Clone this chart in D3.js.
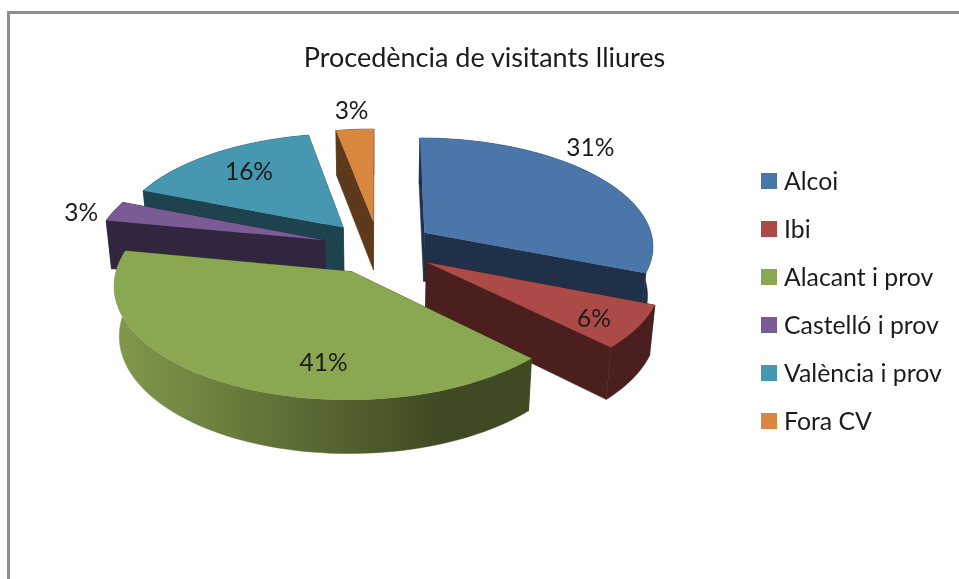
<!DOCTYPE html>
<html>
<head>
<meta charset="utf-8">
<script src="https://d3js.org/d3.v7.min.js"></script>
<style>
    html, body { margin: 0; padding: 0; background: #fff; overflow: hidden; }
    svg { display: block; filter: blur(0.4px); }
    text { font-family: Lato, "Open Sans", sans-serif; fill: #1c1c1c; }
</style>
</head>
<body>
<div id="chart"></div>
<script>
// chart values
var chartTitle = "Procedència de visitants lliures";
var categories = ["Alcoi", "Ibi", "Alacant i prov", "Castelló i prov", "València i prov", "Fora CV"];
var values = [31, 6.4, 40.6, 3, 16, 3];

// colours
var topColors = ["#4a76a9", "#ab4a47", "#8aa851", "#7a5b95", "#4598b0", "#d9873f"];
var wallColors = ["#1f3048", "#4a1f1d", "#3f4a22", "#32263f", "#1e424e", "#5d3a1c"];
var rimLightColors = ["#1f3048", "#4a1f1d", "#81994c", "#32263f", "#1e424e", "#5d3a1c"];

// where Excel put the data labels, as angle (degrees) and radius on the pie
var labelAngles = [42.6, 125, 187.8, 283.8, 322.2, 354.8];
var labelRadii = [1.217, 0.817, 0.735, 1.139, 0.743, 1.249];

var width = 959;
var height = 579;

// projection of the tilted pie
var cx = 378.5, cy = 247.5;
var rx = 230, ry = 108.4;
var persp = 0.1106;
var explode = 0.245;
var depth = 49;
var bottomScale = 1.02;

var svg = d3.select("#chart").append("svg")
    .attr("width", width)
    .attr("height", height);

var defs = svg.append("defs");

// frame, only top and left in the picture
svg.append("path")
    .attr("d", "M8.5,579V12.5H959")
    .attr("fill", "none")
    .attr("stroke", "#8e8e8e")
    .attr("stroke-width", 3);

svg.append("text")
    .attr("x", 484.5)
    .attr("y", 67)
    .attr("text-anchor", "middle")
    .attr("font-size", 27)
    .text(chartTitle);

var pie = d3.pie().sort(null).value(function (d) { return d; });
var arcs = pie(values).map(function (d, i) {
    d.name = categories[i];
    d.index = i;
    d.mid = (d.startAngle + d.endAngle) / 2;
    d.ox = explode * Math.sin(d.mid);
    d.oy = explode * Math.cos(d.mid);
    return d;
});

function project(d, angle, r, bottom) {
    var X = d.ox + r * Math.sin(angle);
    var Y = d.oy + r * Math.cos(angle);
    var w = 1 + persp * Y;
    var s = bottom ? 1 / bottomScale : 1;
    return [
        cx + rx * X / w * s,
        cy - ry * Y / w * s + (bottom ? depth / w : 0)
    ];
}

function rimAngles(d) {
    var n = Math.max(4, Math.ceil((d.endAngle - d.startAngle) / 0.03));
    return d3.range(n + 1).map(function (j) {
        return d.startAngle + (d.endAngle - d.startAngle) * j / n;
    });
}

var line = d3.line();
function polygon(pts) {
    return line(pts) + "Z";
}

// back slices first
var order = arcs.slice().sort(function (a, b) {
    return d3.descending(a.oy, b.oy);
});

var slices = svg.selectAll(".slice")
    .data(order)
    .enter()
    .append("g")
    .attr("class", "slice");

slices.each(function (d) {
    var g = d3.select(this);
    var angles = rimAngles(d);
    var rimTop = angles.map(function (a) { return project(d, a, 1, false); });
    var rimBottom = angles.map(function (a) { return project(d, a, 1, true); });

    // outer wall, shaded from the left side to the dark part on the right
    var xExtent = d3.extent(rimTop, function (p) { return p[0]; });
    var grad = defs.append("linearGradient")
        .attr("id", "rim_" + d.index)
        .attr("gradientUnits", "userSpaceOnUse")
        .attr("x1", xExtent[0])
        .attr("x2", xExtent[1])
        .attr("y1", 0)
        .attr("y2", 0);
    grad.append("stop").attr("offset", 0).attr("stop-color", rimLightColors[d.index]);
    grad.append("stop").attr("offset", 0.78).attr("stop-color", wallColors[d.index]);
    grad.append("stop").attr("offset", 1).attr("stop-color", wallColors[d.index]);

    g.append("path")
        .attr("d", polygon(rimTop.concat(rimBottom.slice().reverse())))
        .attr("fill", "url(#rim_" + d.index + ")")
        .attr("stroke", "url(#rim_" + d.index + ")")
        .attr("stroke-width", 0.5);

    // two cut faces
    [d.startAngle, d.endAngle].forEach(function (a) {
        g.append("path")
            .attr("d", polygon([
                project(d, a, 0, false),
                project(d, a, 1, false),
                project(d, a, 1, true),
                project(d, a, 0, true)
            ]))
            .attr("fill", wallColors[d.index])
            .attr("stroke", wallColors[d.index])
            .attr("stroke-width", 0.5);
    });

    // top face
    g.append("path")
        .attr("d", polygon([project(d, 0, 0, false)].concat(rimTop)))
        .attr("fill", topColors[d.index]);
});

// data labels
svg.selectAll(".label")
    .data(arcs)
    .enter()
    .append("text")
    .attr("class", "label")
    .attr("font-size", 24.5)
    .attr("text-anchor", "middle")
    .attr("dominant-baseline", "central")
    .attr("x", function (d) {
        return project(d, labelAngles[d.index] * Math.PI / 180, labelRadii[d.index], false)[0];
    })
    .attr("y", function (d) {
        return project(d, labelAngles[d.index] * Math.PI / 180, labelRadii[d.index], false)[1];
    })
    .text(function (d) {
        return Math.round(d.value / d3.sum(values) * 100) + "%";
    });

// legend
var legendY = d3.scalePoint()
    .domain(categories)
    .range([181, 421]);

var legend = svg.selectAll(".legend")
    .data(categories)
    .enter()
    .append("g")
    .attr("class", "legend")
    .attr("transform", function (d) {
        return "translate(761," + legendY(d) + ")";
    });

legend.append("rect")
    .attr("x", 0)
    .attr("y", -8)
    .attr("width", 16)
    .attr("height", 16)
    .attr("fill", function (d, i) { return topColors[i]; });

legend.append("text")
    .attr("x", 23)
    .attr("y", -1)
    .attr("dominant-baseline", "central")
    .attr("font-size", 24.8)
    .text(function (d) { return d; });
</script>
</body>
</html>
